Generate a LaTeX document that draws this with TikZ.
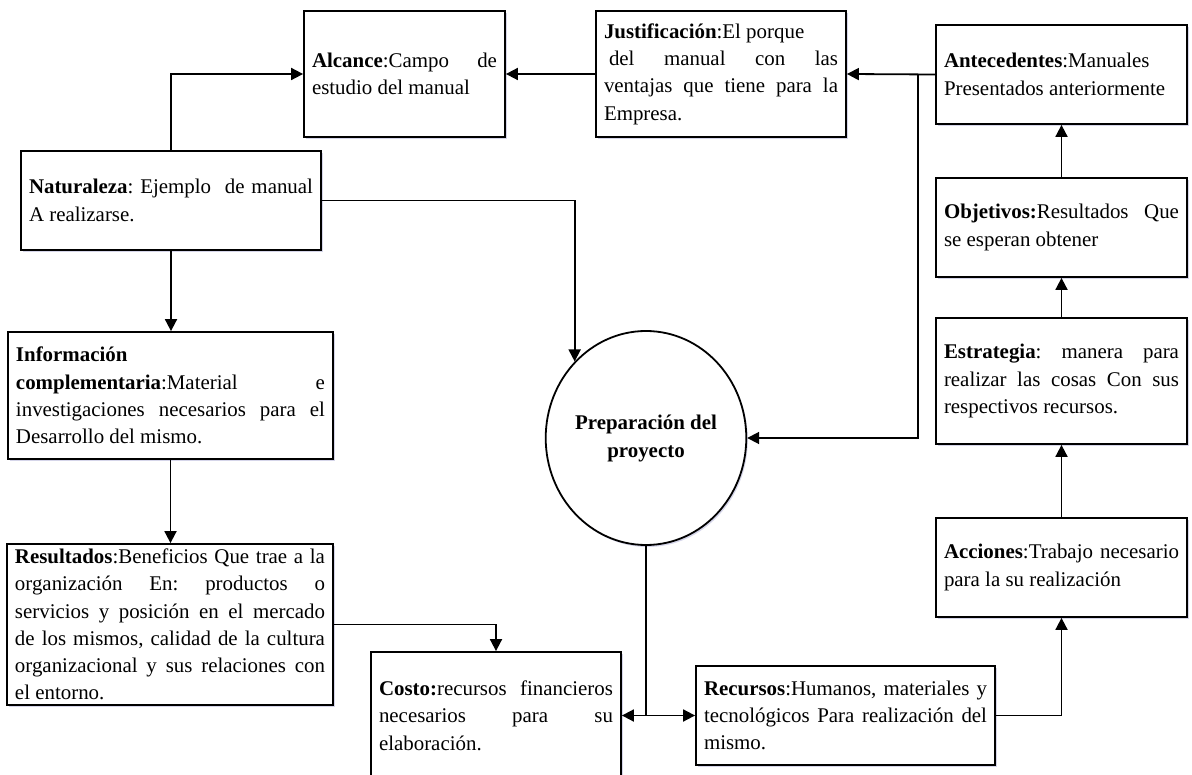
\documentclass[tikz,border=0pt]{standalone}
\usepackage{fontspec}
\setmainfont{Liberation Serif}
\usetikzlibrary{arrows.meta,shapes.geometric,shadows}

% a block of lines stacked vertically, #1 = line width in pt
\newcommand{\lines}[2]{\vbox{\hsize=#1pt\relax\frenchspacing #2}}
% a line stretched to the full line width (justified line)
\newcommand{\jl}[1]{\hbox to\hsize{#1}}
% a line set flush left at its natural spacing (ragged line)
\newcommand{\rl}[1]{\hbox to\hsize{#1\hfil}}

\begin{document}
\begin{tikzpicture}[x=1pt,y=-1pt,
  every node/.style={font=\fontsize{20.9}{27.3}\selectfont},
  box/.style={draw=black, line width=1.8pt, fill=white, rectangle,
    inner xsep=8pt, inner ysep=0pt,
    drop shadow={shadow xshift=1.5pt, shadow yshift=-2pt, fill=blue!30!gray, opacity=.25}},
  hub/.style={draw=black, line width=1.8pt, fill=white, ellipse, inner sep=0pt,
    minimum width=200pt, minimum height=214pt, align=center,
    font=\fontsize{20.9}{28}\selectfont\bfseries,
    drop shadow={shadow xshift=1.5pt, shadow yshift=-2pt, fill=blue!30!gray, opacity=.25}},
  conn/.style={draw=black, line width=1.8pt},
  arr/.style={conn, -{Triangle[length=12pt,width=12pt]}}
]
\useasboundingbox (0,0) rectangle (1192,775);

% ---- top row ----
\node[box, minimum width=201, minimum height=126] (alc) at (404.5,74)
  {\lines{185}{\jl{\textbf{Alcance}:Campo de}\rl{estudio del manual}}};
\node[box, minimum width=250, minimum height=126] (jus) at (721,74)
  {\lines{234}{\rl{\textbf{Justificación}:El porque}\jl{\kern5pt del manual con las}\jl{ventajas que tiene para la}\rl{Empresa.}}};

% ---- right column ----
\node[box, minimum width=251, minimum height=99] (ant) at (1061.5,74.5)
  {\lines{235}{\rl{\textbf{Antecedentes}:Manuales}\rl{Presentados anteriormente}}};
\node[box, minimum width=251, minimum height=99] (obj) at (1061.5,227.5)
  {\lines{235}{\jl{\textbf{Objetivos:}Resultados Que}\rl{se esperan obtener}}};
\node[box, minimum width=251, minimum height=126] (est) at (1061.5,381)
  {\lines{235}{\jl{\textbf{Estrategia}: manera para}\jl{realizar las cosas Con sus}\rl{respectivos recursos.}}};
\node[box, minimum width=251, minimum height=99] (acc) at (1061.5,567.5)
  {\lines{235}{\jl{\textbf{Acciones}:Trabajo necesario}\rl{para la su realización}}};

% ---- left column ----
\node[box, minimum width=300, minimum height=99] (nat) at (171,200.5)
  {\lines{284}{\jl{\textbf{Naturaleza}: Ejemplo\ \ de manual}\rl{A realizarse.}}};
\node[box, minimum width=325, minimum height=127] (inf) at (170.5,395.5)
  {\lines{309}{\rl{\textbf{Información}}\jl{\textbf{complementaria}:Material e}\jl{investigaciones necesarios para el}\rl{Desarrollo del mismo.}}};
\node[box, minimum width=326, minimum height=161] (res) at (170,624.5)
  {\lines{310}{\jl{\textbf{Resultados}:Beneficios Que trae a la}\jl{organización En: productos o}\jl{servicios y posición en el mercado}\jl{de los mismos, calidad de la cultura}\jl{organizacional y sus relaciones con}\rl{el entorno.}}};

% ---- bottom row ----
\node[box, minimum width=250, minimum height=127] (cos) at (496,715.5)
  {\lines{234}{\jl{\textbf{Costo:}recursos financieros}\jl{necesarios para su}\rl{elaboración.}}};
\node[box, minimum width=299, minimum height=99] (rec) at (845.5,715.5)
  {\lines{283}{\jl{\textbf{Recursos}:Humanos, materiales y}\jl{tecnológicos Para realización del}\rl{mismo.}}};

% ---- centre ----
\node[hub] (prep) at (646,438) {Preparación del\\proyecto};

% ---- connectors ----
\coordinate (br) at (918,74.5);
\coordinate (sp) at (646,715.5);

\draw[arr] (nat.north) |- (alc.west);
\draw[arr] (jus.west) -- (alc.east);
\draw[arr] (ant.west) -- (jus.east);
\draw[arr] (br) |- (prep.east);
\draw[arr] (nat.east) -| (prep.133.4);
\draw[arr] (nat.south) -- (nat.south |- inf.north);
\draw[arr] (inf.south) -- (inf.south |- res.north);
\draw[arr] (res.east) -| (cos.north);
\draw[conn] (prep.south) -- (sp);
\draw[arr] (sp) -- (cos.east);
\draw[arr] (sp) -- (rec.west);
\draw[arr] (rec.east) -| (acc.south);
\draw[arr] (acc.north) -- (est.south);
\draw[arr] (est.north) -- (obj.south);
\draw[arr] (obj.north) -- (ant.south);
\end{tikzpicture}
\end{document}
